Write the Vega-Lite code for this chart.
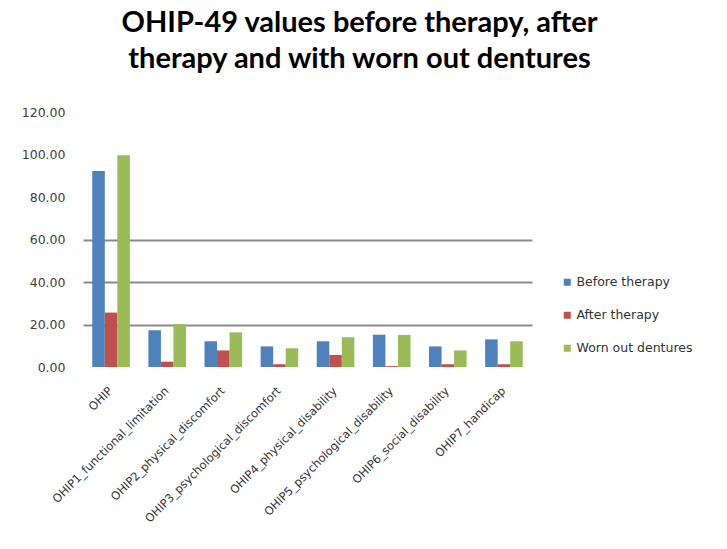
{
  "$schema": "https://vega.github.io/schema/vega-lite/v6.json",
  "autosize": {"type": "none"},
  "padding": {"left": 83, "top": 112, "right": 195, "bottom": 182},
  "width": 449,
  "height": 255,
  "background": "white",
  "title": {
    "text": ["OHIP-49 values before therapy, after", "therapy and with worn out dentures"],
    "font": "Lato",
    "fontSize": 29,
    "fontWeight": "bold",
    "color": "#000000",
    "anchor": "middle",
    "dx": 52,
    "lineHeight": 36,
    "offset": 32
  },
  "data": {
    "values": [
      {"domain": "OHIP", "series": "Before therapy", "value": 92.2},
      {"domain": "OHIP", "series": "After therapy", "value": 25.6},
      {"domain": "OHIP", "series": "Worn out dentures", "value": 99.7},
      {"domain": "OHIP1_functional_limitation", "series": "Before therapy", "value": 17.3},
      {"domain": "OHIP1_functional_limitation", "series": "After therapy", "value": 2.5},
      {"domain": "OHIP1_functional_limitation", "series": "Worn out dentures", "value": 20.2},
      {"domain": "OHIP2_physical_discomfort", "series": "Before therapy", "value": 12.1},
      {"domain": "OHIP2_physical_discomfort", "series": "After therapy", "value": 7.8},
      {"domain": "OHIP2_physical_discomfort", "series": "Worn out dentures", "value": 16.3},
      {"domain": "OHIP3_psychological_discomfort", "series": "Before therapy", "value": 9.7},
      {"domain": "OHIP3_psychological_discomfort", "series": "After therapy", "value": 1.3},
      {"domain": "OHIP3_psychological_discomfort", "series": "Worn out dentures", "value": 8.8},
      {"domain": "OHIP4_physical_disability", "series": "Before therapy", "value": 12.1},
      {"domain": "OHIP4_physical_disability", "series": "After therapy", "value": 5.6},
      {"domain": "OHIP4_physical_disability", "series": "Worn out dentures", "value": 14.0},
      {"domain": "OHIP5_psychological_disability", "series": "Before therapy", "value": 15.2},
      {"domain": "OHIP5_psychological_disability", "series": "After therapy", "value": 0.4},
      {"domain": "OHIP5_psychological_disability", "series": "Worn out dentures", "value": 15.1},
      {"domain": "OHIP6_social_disability", "series": "Before therapy", "value": 9.7},
      {"domain": "OHIP6_social_disability", "series": "After therapy", "value": 1.3},
      {"domain": "OHIP6_social_disability", "series": "Worn out dentures", "value": 7.8},
      {"domain": "OHIP7_handicap", "series": "Before therapy", "value": 13.0},
      {"domain": "OHIP7_handicap", "series": "After therapy", "value": 1.3},
      {"domain": "OHIP7_handicap", "series": "Worn out dentures", "value": 12.1}
    ]
  },
  "mark": {"type": "bar"},
  "encoding": {
    "x": {
      "field": "domain",
      "type": "nominal",
      "sort": null,
      "scale": {"paddingInner": 0.33, "paddingOuter": 0.165},
      "axis": {
        "title": null,
        "labelAngle": -45,
        "labelAlign": "right",
        "labelBaseline": "middle",
        "labelPadding": 22,
        "labelFont": "DejaVu Sans",
        "labelFontSize": 11.5,
        "labelColor": "#333333",
        "labelLimit": 300,
        "ticks": false,
        "domain": false
      }
    },
    "xOffset": {"field": "series", "type": "nominal", "sort": ["Before therapy", "After therapy", "Worn out dentures"]},
    "y": {
      "field": "value",
      "type": "quantitative",
      "scale": {"domain": [0, 120]},
      "axis": {
        "title": null,
        "values": [0, 20, 40, 60, 80, 100, 120],
        "format": ".2f",
        "labelFont": "DejaVu Sans",
        "labelFontSize": 12.5,
        "labelColor": "#404040",
        "labelPadding": 18,
        "ticks": false,
        "domain": false,
        "gridWidth": 2,
        "gridColor": {"condition": {"test": "datum.value > 0 && datum.value <= 60", "value": "#8c8c8c"}, "value": "transparent"}
      }
    },
    "color": {
      "field": "series",
      "type": "nominal",
      "sort": ["Before therapy", "After therapy", "Worn out dentures"],
      "scale": {"domain": ["Before therapy", "After therapy", "Worn out dentures"], "range": ["#4F81BD", "#C0504D", "#9BBB59"]},
      "legend": {
        "title": null,
        "orient": "none",
        "legendX": 478,
        "legendY": 164,
        "symbolType": "square",
        "symbolSize": 49,
        "symbolStrokeWidth": 0,
        "rowPadding": 20,
        "labelFont": "DejaVu Sans",
        "labelFontSize": 12.5,
        "labelColor": "#333333",
        "labelOffset": 3
      }
    }
  },
  "config": {"view": {"stroke": null}}
}
